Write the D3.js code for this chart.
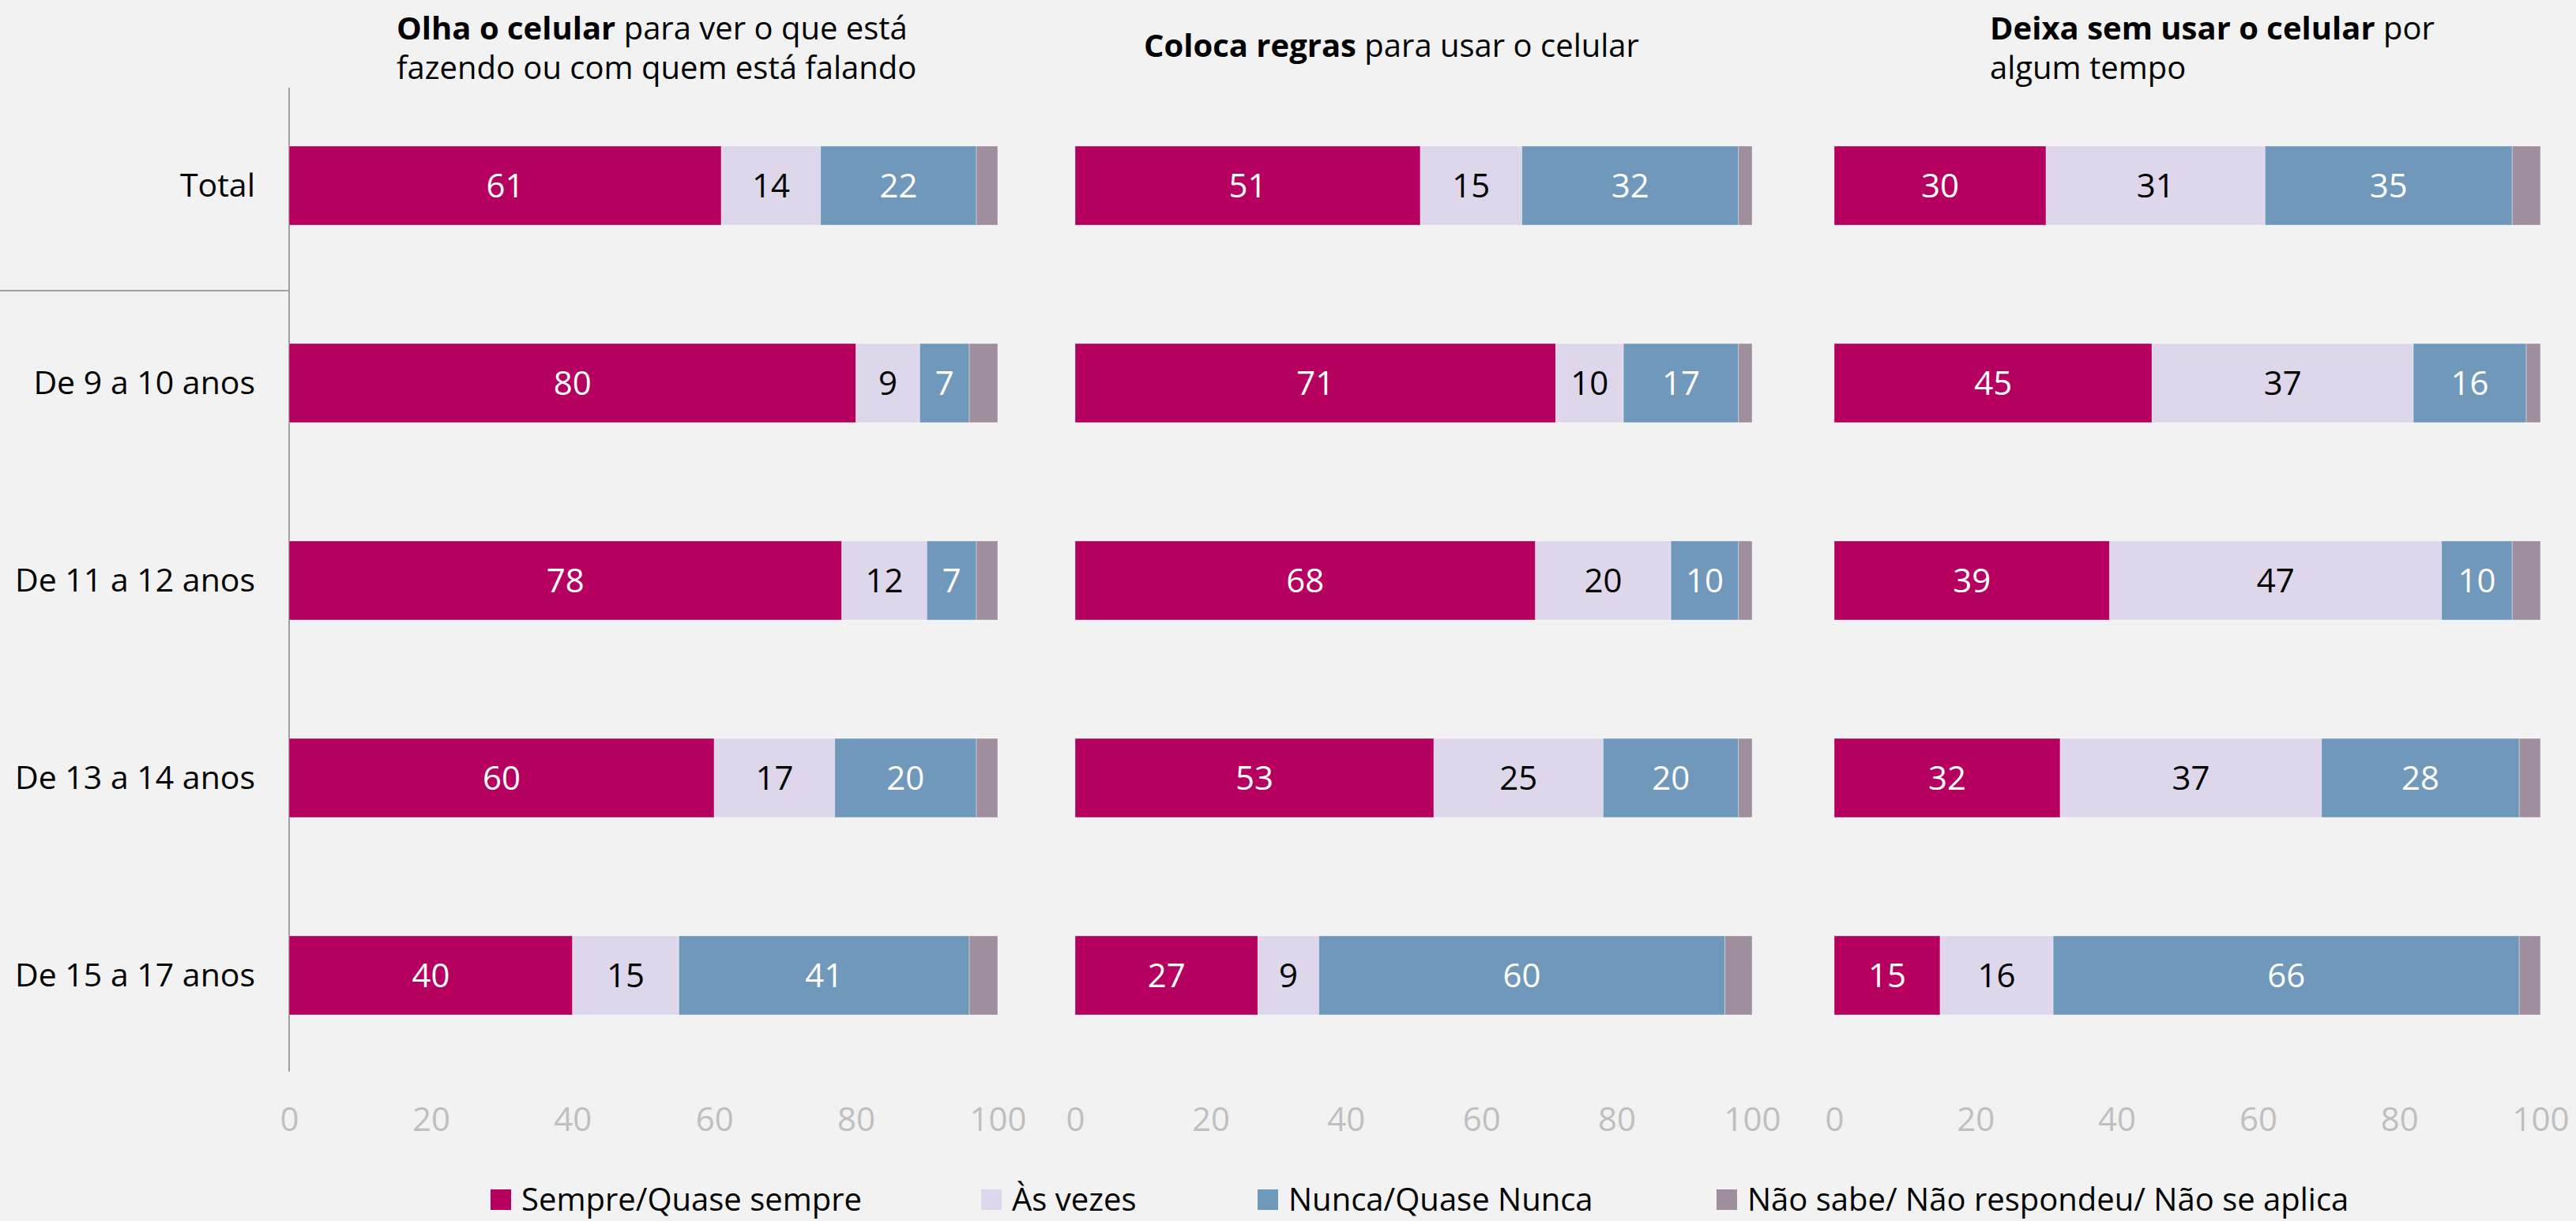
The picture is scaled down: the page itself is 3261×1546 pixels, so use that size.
<!DOCTYPE html>
<html>
<head>
<meta charset="utf-8">
<script src="https://cdn.jsdelivr.net/npm/d3@7"></script>
<style>
  html, body { margin: 0; padding: 0; background: #f2f2f2; }
  svg { display: block; font-family: "Open Sans", "Noto Sans", sans-serif; }
</style>
</head>
<body>
<svg id="chart" width="3261" height="1546"></svg>
<script>
// Age groups (rows)
const categories = ["Total", "De 9 a 10 anos", "De 11 a 12 anos", "De 13 a 14 anos", "De 15 a 17 anos"];

// Response options (stack order)
const seriesNames = ["Sempre/Quase sempre", "Às vezes", "Nunca/Quase Nunca", "Não sabe/ Não respondeu/ Não se aplica"];

// Panel 1: Olha o celular para ver o que está fazendo ou com quem está falando
const olhaSempre = [61, 80, 78, 60, 40];
const olhaAsVezes = [14, 9, 12, 17, 15];
const olhaNunca = [22, 7, 7, 20, 41];
const olhaNaoSabe = [3, 4, 3, 3, 4];

// Panel 2: Coloca regras para usar o celular
const regrasSempre = [51, 71, 68, 53, 27];
const regrasAsVezes = [15, 10, 20, 25, 9];
const regrasNunca = [32, 17, 10, 20, 60];
const regrasNaoSabe = [2, 2, 2, 2, 4];

// Panel 3: Deixa sem usar o celular por algum tempo
const deixaSempre = [30, 45, 39, 32, 15];
const deixaAsVezes = [31, 37, 47, 37, 16];
const deixaNunca = [35, 16, 10, 28, 66];
const deixaNaoSabe = [4, 2, 4, 3, 3];

const tickValues = [0, 20, 40, 60, 80, 100];

const colors = ["#b5005f", "#ded6ea", "#7098ba", "#9e8e9e"];
const labelColors = ["#ffffff", "#000000", "#ffffff", null];

const panels = [
  { title: [[["Olha o celular", true], [" para ver o que está", false]], [["fazendo ou com quem está falando", false]]],
    titleX: 502, titleY: [50, 100], x0: 366, x1: 1263,
    series: [olhaSempre, olhaAsVezes, olhaNunca, olhaNaoSabe] },
  { title: [[["Coloca regras", true], [" para usar o celular", false]]],
    titleX: 1448, titleY: [72], x0: 1361, x1: 2218,
    series: [regrasSempre, regrasAsVezes, regrasNunca, regrasNaoSabe] },
  { title: [[["Deixa sem usar o celular", true], [" por", false]], [["algum tempo", false]]],
    titleX: 2519, titleY: [50, 100], x0: 2322, x1: 3216,
    series: [deixaSempre, deixaAsVezes, deixaNunca, deixaNaoSabe] }
];

const svg = d3.select("#chart");
svg.append("rect").attr("width", 3261).attr("height", 1546).attr("fill", "#f2f2f2");

const y = d3.scaleBand()
  .domain(categories)
  .range([110, 1360])
  .paddingInner(0.6)
  .paddingOuter(0.3);

const fontSize = 40;
const numSize = 42;

// Row labels
svg.append("g").selectAll("text")
  .data(categories)
  .join("text")
  .attr("x", 323)
  .attr("y", d => y(d) + y.bandwidth() / 2)
  .attr("dy", "0.35em")
  .attr("text-anchor", "end")
  .attr("font-size", 41)
  .attr("fill", "#000")
  .text(d => d);

// Divider under "Total" and vertical axis line
svg.append("line")
  .attr("x1", 0).attr("x2", 366)
  .attr("y1", y.range()[0] + y.step() + 8).attr("y2", y.range()[0] + y.step() + 8)
  .attr("stroke", "#a0a0a0").attr("stroke-width", 2);
svg.append("line")
  .attr("x1", 366).attr("x2", 366)
  .attr("y1", 111).attr("y2", 1357)
  .attr("stroke", "#a0a0a0").attr("stroke-width", 2);

panels.forEach(p => {
  const x = d3.scaleLinear().domain([0, 100]).range([p.x0, p.x1]);
  const g = svg.append("g");

  // Title
  p.title.forEach((line, i) => {
    const t = g.append("text")
      .attr("x", p.titleX)
      .attr("y", p.titleY[i])
      .attr("font-size", fontSize)
      .attr("fill", "#000");
    line.forEach(([txt, bold]) => {
      t.append("tspan").attr("font-weight", bold ? 700 : 400).text(txt);
    });
  });

  // Stacked rows
  const rows = categories.map((c, i) => {
    const vals = p.series.map(s => s[i]);
    let acc = 0;
    return vals.map((v, k) => {
      const seg = { cat: c, k, v, start: acc, end: acc + v };
      acc += v;
      return seg;
    });
  }).flat();

  g.selectAll("rect.seg")
    .data(rows)
    .join("rect")
    .attr("class", "seg")
    .attr("x", d => x(d.start))
    .attr("y", d => y(d.cat))
    .attr("width", d => x(d.end) - x(d.start))
    .attr("height", y.bandwidth())
    .attr("fill", d => colors[d.k])
    .attr("stroke", "#ffffff")
    .attr("stroke-opacity", 0.35)
    .attr("stroke-width", 1);

  g.selectAll("text.val")
    .data(rows.filter(d => labelColors[d.k]))
    .join("text")
    .attr("class", "val")
    .attr("x", d => (x(d.start) + x(d.end)) / 2)
    .attr("y", d => y(d.cat) + y.bandwidth() / 2)
    .attr("dy", "0.36em")
    .attr("text-anchor", "middle")
    .attr("font-size", numSize)
    .attr("fill", d => labelColors[d.k])
    .text(d => d.v);

  // Bottom axis
  const axis = d3.axisBottom(x).tickValues(tickValues).tickSize(0).tickPadding(0);
  const ag = g.append("g").attr("transform", "translate(0,1390)").call(axis);
  ag.select(".domain").remove();
  ag.selectAll("text")
    .attr("font-size", numSize)
    .attr("font-family", "'Open Sans', 'Noto Sans', sans-serif")
    .attr("fill", "#bfbfbf")
    .attr("dy", "1em");
});

// Legend
const legendX = [621, 1242, 1592, 2173];
const lg = svg.append("g");
seriesNames.forEach((name, i) => {
  lg.append("rect")
    .attr("x", legendX[i]).attr("y", 1506)
    .attr("width", 26).attr("height", 26)
    .attr("fill", colors[i]);
  lg.append("text")
    .attr("x", legendX[i] + 39).attr("y", 1533)
    .attr("font-size", fontSize)
    .attr("fill", "#000")
    .text(name);
});
</script>
</body>
</html>
